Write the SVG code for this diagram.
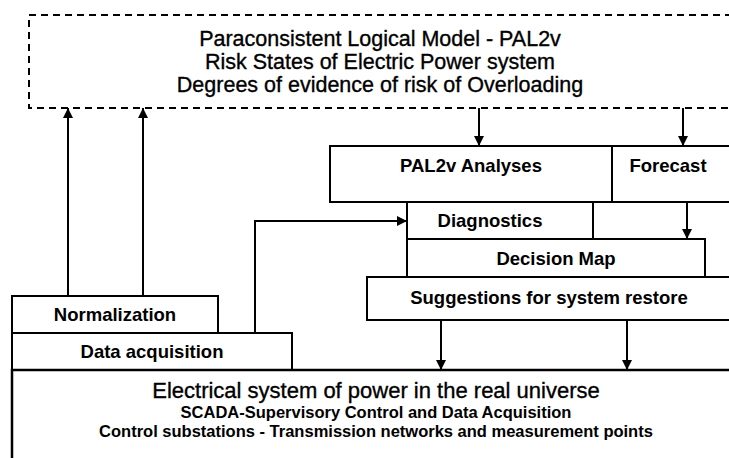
<svg xmlns="http://www.w3.org/2000/svg" width="729" height="458" viewBox="0 0 729 458">
<style>
.box{fill:#fff;stroke:#000;stroke-width:2}
.dash{fill:none;stroke:#000;stroke-width:2;stroke-dasharray:7 5}
.ln{fill:none;stroke:#000;stroke-width:2}
.t{font-family:"Liberation Sans",Arial,sans-serif;text-anchor:middle;fill:#000}
.b{font-weight:bold;font-size:18.5px}
.r{font-size:21.5px;stroke:#000;stroke-width:0.35}
.s{font-weight:bold;font-size:16.5px}
</style>
<defs>
<marker id="ah" viewBox="0 0 10 10" refX="10" refY="5" markerWidth="10" markerHeight="10" markerUnits="userSpaceOnUse" orient="auto">
<path d="M0,0 L10,5 L0,10 Z" fill="#000"/>
</marker>
</defs>
<rect width="729" height="458" fill="#fff"/>
<g id="model">
<rect class="dash" x="29" y="15" width="711" height="93"/>
<text class="t r" x="380" y="46">Paraconsistent Logical Model - PAL2v</text>
<text class="t r" x="380" y="69">Risk States of Electric Power system</text>
<text class="t r" x="380" y="92">Degrees of evidence of risk of Overloading</text>
</g>
<g id="analyses">
<rect class="box" x="330" y="146" width="420" height="56"/>
<line class="ln" x1="612" y1="146" x2="612" y2="202"/>
<text class="t b" x="471" y="172">PAL2v Analyses</text>
</g>
<g id="forecast">
<text class="t b" x="668" y="172">Forecast</text>
</g>
<g id="diagnostics">
<rect class="box" x="407" y="202" width="186" height="37"/>
<text class="t b" x="490" y="227">Diagnostics</text>
</g>
<g id="decision">
<rect class="box" x="407" y="239" width="298" height="38"/>
<text class="t b" x="556" y="265">Decision Map</text>
</g>
<g id="suggestions">
<rect class="box" x="367" y="277" width="380" height="43"/>
<text class="t b" x="549" y="304">Suggestions for system restore</text>
</g>
<g id="normalization">
<rect class="box" x="12" y="296" width="206" height="37"/>
<text class="t b" x="115" y="321">Normalization</text>
</g>
<g id="acquisition">
<rect class="box" x="12" y="333" width="280" height="37"/>
<text class="t b" x="152" y="358">Data acquisition</text>
</g>
<g id="electrical">
<rect class="box" x="12" y="370" width="740" height="100" style="stroke-width:2.5"/>
<text class="t" style="font-size:22px;stroke:#000;stroke-width:0.35" x="376" y="398">Electrical system of power in the real universe</text>
<text class="t s" x="376" y="418">SCADA-Supervisory Control and Data Acquisition</text>
<text class="t s" x="376" y="437">Control substations - Transmission networks and measurement points</text>
</g>
<g id="connectors">
<line class="ln" x1="68" y1="296" x2="68" y2="108" marker-end="url(#ah)"/>
<line class="ln" x1="143" y1="296" x2="143" y2="108" marker-end="url(#ah)"/>
<line class="ln" x1="479" y1="108" x2="479" y2="146" marker-end="url(#ah)"/>
<line class="ln" x1="683" y1="108" x2="683" y2="146" marker-end="url(#ah)"/>
<line class="ln" x1="687" y1="202" x2="687" y2="239" marker-end="url(#ah)"/>
<polyline class="ln" points="255,333 255,221 407,221" marker-end="url(#ah)"/>
<line class="ln" x1="441" y1="320" x2="441" y2="370" marker-end="url(#ah)"/>
<line class="ln" x1="627" y1="320" x2="627" y2="370" marker-end="url(#ah)"/>
</g>
</svg>
